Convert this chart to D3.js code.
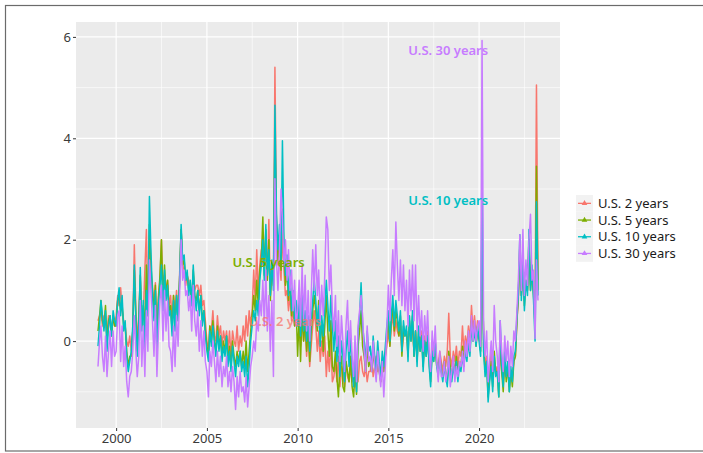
<!DOCTYPE html>
<html>
<head>
<meta charset="utf-8">
<script src="https://cdn.jsdelivr.net/npm/d3@7"></script>
<style>
  body { margin: 0; background: #fff; }
  svg { display: block; font-family: "Noto Sans", "DejaVu Sans", sans-serif; }
</style>
</head>
<body>
<svg id="chart" width="703" height="453"></svg>
<script>
// monthly readings, Jan 1999 .. Apr 2023
const startMonth = new Date(Date.UTC(1999, 0, 1));

const us2 = [
  0.4, 0.5, 0.6, 0.3, 0.5, 0.4, 0.1, 0.5, 0.3, 0.2, 0.5, 0.3,
  0.5, 0.9, 0.7, 1.05, 0.6, 0.4, 0.3, 0.0, -0.1, 0.1, -0.2, 0.2,
  1.9, 0.6, 0.0, 0.5, 1.2, 0.4, 0.5, 1.4, 2.2, 0.6, 1.9, 1.3,
  1.1, 0.7, 1.15, 0.2, 0.9, 1.2, 2.0, 0.9, 1.3, 1.0, 1.2, 0.7,
  0.9, 0.4, 0.9, 0.6, 1.0, 0.5, 1.3, 2.2, 1.5, 1.4, 1.1, 1.3,
  1.2, 1.0, 0.8, 1.3, 1.0, 1.1, 1.1, 0.9, 1.1, 0.7, 0.8, 0.4,
  0.0, -0.2, 0.3, 0.2, 0.6, 0.1, 0.0, 0.5, 0.1, 0.3, -0.1, 0.2,
  0.0, 0.2, -0.2, 0.2, -0.3, 0.2, 0.0, -0.1, 0.3, -0.2, 0.1, -0.1,
  0.3, 0.0, 0.5, 0.1, 0.6, 0.3, 0.6, 1.4, 0.8, 1.8, 0.9, 1.5,
  1.8, 1.5, 1.6, 2.0, 1.2, 2.4, 0.9, 1.5, 1.2, 5.4, 2.4, 1.5,
  1.6, 1.2, 2.2, 1.4, 0.9, 1.0, 0.6, 0.9, 0.4, 0.6, 0.3, 0.5,
  0.4, 0.6, -0.1, 0.5, 0.0, 0.3, -0.3, 0.2, -0.5, -0.1, 0.3, 0.6,
  0.3, -0.2, 0.2, -0.4, 0.0, -0.3, 0.1, -0.7, -0.2, -0.6, 0.0, -0.8,
  -0.7, -0.4, -0.8, -0.3, -0.9, -0.5, -0.6, -0.9, -0.4, -0.7, -0.8, -0.5,
  -0.8, -0.7, -0.9, -0.6, -0.8, -0.4, -0.3, -0.6, -0.7, -0.5, -0.8, -0.6,
  -0.6, -0.4, -0.7, -0.5, -0.3, -0.6, -0.5, -0.8, -0.4, -0.6, -0.3, -0.1,
  0.2, -0.1, 0.3, 0.5, 0.1, 0.4, 0.2, 0.1, 0.3, -0.2, 0.1, 0.2,
  0.2, -0.1, 0.3, 0.1, 0.2, -0.2, 0.2, -0.3, 0.1, 0.0, 0.2, -0.3,
  0.1, -0.2, 0.2, -0.3, -0.5, -0.1, -0.3, 0.0, -0.4, -0.5, -0.2, -0.4,
  -0.6, -0.3, -0.5, -0.2, 0.55, -0.3, -0.5, -0.2, -0.4, -0.1, -0.5, -0.2,
  -0.3, 0.3, -0.2, 0.1, -0.1, 0.3, 0.0, 0.7, 0.2, 0.5, 0.1, 0.4,
  0.3, 0.0, 1.2, 0.2, -0.5, -0.3, -0.7, -0.6, -0.2, -0.8, -0.4, -0.6,
  -0.5, -0.9, 0.0, -0.6, -0.8, -0.4, -0.7, -0.5, -0.9, -0.6, -0.7, -0.4,
  -0.3, 0.4, 0.8, 1.7, 0.9, 1.3, 0.8, 1.1, 1.0, 1.8, 1.1, 1.3,
  1.0, 0.6, 5.05, 1.2
];

const us5 = [
  0.2, 0.5, 0.8, 0.4, 0.3, 0.7, 0.0, 0.4, 0.5, 0.1, 0.5, 0.3,
  0.3, 0.8, 0.9, 0.6, 0.7, 0.3, 0.3, -0.2, -0.5, -0.3, -0.3, 0.2,
  1.4, 0.5, -0.2, 0.4, 1.3, 0.3, 0.7, 0.2, 1.5, 0.5, 2.3, 1.5,
  1.0, 0.6, 1.1, 0.0, 0.8, 1.3, 2.0, 0.8, 1.5, 0.9, 1.2, 0.6,
  0.7, 0.2, 0.9, 0.3, 0.9, 0.4, 1.2, 2.2, 1.5, 1.6, 1.2, 1.3,
  1.0, 1.1, 0.7, 1.4, 0.9, 0.8, 1.0, 0.6, 0.9, 0.4, 0.6, 0.2,
  -0.1, -0.3, 0.3, 0.0, 0.4, 0.0, -0.2, 0.3, -0.1, 0.1, -0.3, 0.0,
  -0.2, 0.1, -0.4, -0.1, -0.5, 0.0, -0.3, -0.5, -0.2, -0.4, -0.2, -0.5,
  -0.2, -0.5, 0.0, -0.6, -0.2, 0.2, 0.5, 0.9, 0.6, 1.2, 0.7, 1.4,
  1.6, 2.45, 1.3, 2.2, 1.2, 2.0, 0.8, 1.5, 1.1, 4.0, 2.3, 1.6,
  2.0, 1.4, 2.6, 1.8, 1.1, 1.4, 0.8, 1.2, 0.5, 0.9, 0.3, 0.7,
  -0.3, 0.5, -0.4, 0.6, 0.0, 0.4, -0.2, 0.3, -0.4, 0.2, 0.6, 0.9,
  0.6, 0.2, 0.8, 0.0, 0.4, -0.2, 0.3, 0.9, 0.2, -0.3, 0.4, -0.5,
  -0.6, -0.2, -0.7, -1.1, -0.5, -0.3, -0.9, -1.0, -0.4, -0.6, -0.8, -0.3,
  -0.9, -1.1, -0.6, -1.05, -0.1, 0.2, 0.6, -0.1, -0.3, -0.6, -0.1, -0.5,
  -0.4, -0.6, -0.2, -0.5, -0.7, -0.3, -0.6, -0.8, -0.4, -0.6, -0.3, 0.1,
  0.4, -0.1, 0.4, 0.7, 0.2, 0.6, 0.4, 0.1, 0.5, -0.3, 0.3, 0.1,
  0.2, -0.3, 0.4, 0.0, 0.5, -0.3, 0.2, -0.4, 0.2, -0.2, 0.1, -0.5,
  0.0, -0.3, 0.1, -0.4, -0.8, -0.2, -0.4, -0.1, -0.5, -0.6, -0.3, -0.6,
  -0.7, -0.4, -0.6, -0.8, -0.2, -0.5, -0.7, -0.4, -0.6, -0.3, -0.7, -0.4,
  -0.5, -0.1, -0.4, -0.1, -0.3, 0.1, -0.2, 0.4, 0.0, 0.3, -0.1, 0.2,
  0.1, -0.2, 2.4, -0.1, -0.6, -0.4, -1.1, -0.7, -0.4, -0.9, -0.2, -0.6,
  -0.6, -1.1, 0.2, -0.6, -1.0, -0.3, -0.8, -0.5, -1.0, -0.6, -0.9, -0.4,
  -0.3, 0.4, 0.9, 1.9, 0.9, 1.5, 0.7, 1.2, 1.0, 2.0, 1.0, 1.4,
  0.9, 0.3, 3.45, 1.0
];

const us10 = [
  -0.1, 0.3, 0.8, 0.5, 0.2, 0.6, -0.2, 0.3, 0.5, 0.1, 0.6, 0.4,
  0.3, 0.8, 1.05, 0.5, 0.9, 0.2, 0.4, -0.3, -0.6, -0.4, -0.2, 0.3,
  1.5, 0.4, -0.3, 0.3, 1.45, 0.2, 0.8, -0.2, 1.0, 0.5, 2.85, 1.8,
  0.9, 0.4, 1.0, -0.2, 0.7, 1.1, 1.5, 0.6, 1.4, 0.8, 1.1, 0.5,
  0.6, 0.1, 0.8, 0.2, 0.9, 0.4, 1.2, 2.3, 1.6, 1.7, 1.2, 1.4,
  0.9, 1.2, 0.7, 1.5, 0.9, 0.6, 1.0, 0.5, 0.9, 0.3, 0.6, 0.1,
  -0.2, -0.4, 0.2, -0.1, 0.3, 0.0, -0.3, 0.2, -0.2, 0.1, -0.4, -0.1,
  -0.3, 0.1, -0.5, -0.2, -0.6, -0.1, -0.4, -0.7, -0.3, -0.5, -0.2, -0.6,
  -0.4, -0.7, -0.3, -0.9, -0.5, 0.0, 0.3, 0.6, 0.4, 0.8, 0.5, 1.2,
  1.5, 2.0, 1.2, 2.3, 1.3, 1.8, 0.9, 1.6, 1.0, 4.65, 2.5, 1.8,
  2.3, 1.6, 3.95, 2.0, 1.3, 1.7, 0.9, 1.4, 0.6, 1.0, 0.4, 0.8,
  0.3, 0.8, 0.1, 0.9, 0.2, 0.6, 0.0, 0.5, -0.2, 0.4, 0.8, 1.2,
  0.8, 0.3, 0.7, -0.1, 0.5, 0.1, 0.6, 1.2, 0.7, 0.2, 0.9, 0.3,
  -0.2, 0.4, -0.4, 0.1, -0.7, 0.0, -0.3, -0.8, -0.2, 0.2, -0.5, 0.1,
  -0.5, -0.9, -0.3, -1.0, 0.2, 0.5, 1.15, 0.3, 0.0, -0.4, 0.2, -0.2,
  -0.1, -0.5, 0.1, -0.3, -0.6, 0.0, -0.4, -0.7, -0.2, -0.5, -0.1, 0.3,
  0.6, 0.0, 0.5, 0.9, 0.3, 0.8, 0.5, 0.2, 0.6, -0.2, 0.4, 0.1,
  0.3, -0.4, 0.5, 0.0, 0.6, -0.3, 0.2, -0.5, 0.3, -0.2, 0.1, -0.6,
  0.0, -0.3, 0.1, -0.5, -0.9, -0.2, -0.4, 0.0, -0.5, -0.7, -0.3, -0.6,
  -0.8, -0.5, -0.7, -0.9, -0.4, -0.6, -0.8, -0.5, -0.7, -0.4, -0.8, -0.5,
  -0.6, -0.3, -0.5, -0.2, -0.4, 0.0, -0.3, 0.3, 0.0, 0.2, -0.1, 0.3,
  0.0, -0.3, 3.1, -0.2, -0.7, -0.4, -1.2, -0.8, -0.5, -1.0, -0.3, -0.7,
  -0.6, -1.1, 0.4, -0.5, -0.9, -0.2, -0.7, -0.4, -1.0, -0.5, -0.8, -0.3,
  -0.2, 0.5, 0.9, 2.1, 0.8, 1.6, 0.6, 1.2, 0.9, 2.2, 1.0, 1.5,
  0.8, 0.0, 2.75, 0.9
];

const us30 = [
  -0.5, 0.0, 0.3, -0.3, -0.6, 0.1, -0.7, -0.2, 0.2, -0.5, 0.2, -0.3,
  -0.2, 0.5, 0.6, -0.4, 0.3, -0.5, -0.1, -0.8, -1.1, -0.7, -0.6, -0.2,
  0.5, -0.2, -0.7, -0.3, 0.8, -0.5, 0.3, -0.7, 0.6, -0.2, 1.6, 1.0,
  0.4, -0.3, 0.7, -0.7, 0.2, 0.8, 1.1, 0.0, 1.0, 0.2, 0.8, -0.1,
  -0.2, -0.6, 0.3, -0.5, 0.5, -0.1, 0.9, 2.0, 1.2, 1.4, 0.9, 1.0,
  0.6, 0.9, 0.2, 1.1, 0.4, 0.1, 0.6, -0.2, 0.4, -0.3, 0.2, -0.4,
  -0.6, -1.1, -0.2, -0.5, 0.0, -0.4, -0.8, -0.2, -0.7, -0.3, -0.9, -0.5,
  -0.7, -0.3, -0.9, -0.6, -1.0, -0.5, -0.8, -1.35, -0.7, -1.1, -0.6, -1.0,
  -0.9, -1.2, -0.7, -1.3, -0.9, -0.5, -0.3, 0.0, -0.2, 0.4, 0.2, 0.8,
  0.5, 1.2, 0.3, 1.4, 0.2, 0.9, -0.2, 0.8, -0.7, 3.2, 1.6, 1.0,
  1.8, 3.0, 2.4, 1.5, 2.0, 1.2, 1.8, 1.0, 1.4, 0.6, 1.2, 0.3,
  0.6, 1.2, 0.3, 1.5, 0.4, 1.3, 0.2, 1.0, 0.0, 0.9, 1.8, 1.0,
  1.9, 0.9, 1.4, 0.4, 1.1, 0.5, 1.3, 2.45, 2.2, 1.0, 1.5, 0.6,
  0.2, 0.9, -0.1, 0.6, -0.4, 0.5, 0.0, -0.6, 0.3, 0.8, -0.2, 0.4,
  -0.3, -0.7, 0.1, -0.8, 0.3, 0.6, 0.9, 0.5, -0.2, -0.6, 0.3, -0.4,
  -0.3, -0.6, 0.0, -0.5, -0.8, -0.2, -0.6, -0.9, -0.4, -1.1, -0.5, 0.2,
  1.1, 0.4, 1.2, 1.8, 0.9, 2.35, 1.5, 0.8, 1.6, 0.7, 1.5, 0.6,
  1.2, 0.3, 1.4, 0.6, 1.5, 0.4, 1.5, 0.2, 0.9, 0.1, 0.6, -0.2,
  0.5, 0.0, 0.6, -0.2, -0.6, 0.2, -0.3, 0.3, -0.4, -0.8, -0.2, -0.7,
  -0.7, -0.4, -0.8, -0.6, -0.3, -0.9, -0.6, -0.3, -0.8, -0.5, -0.7, -0.4,
  -0.5, -0.2, -0.6, 0.0, -0.3, 0.2, -0.2, 0.5, 0.0, 0.4, 0.0, 0.3,
  0.4, -0.1, 5.93, 0.3, -0.3, 0.2, -0.8, -0.4, 0.0, -0.6, 0.7, 0.0,
  -0.3, -0.8, 0.4, -0.2, -0.6, 0.1, -0.4, 0.0, -0.7, -0.1, -0.5, 0.2,
  0.0, 0.6, 1.2, 2.1, 1.0, 2.2, 0.9, 1.6, 1.1, 2.0, 2.5, 1.2,
  1.4, 0.05, 1.6, 0.8
];

const seriesNames = ["U.S. 2 years", "U.S. 5 years", "U.S. 10 years", "U.S. 30 years"];
const seriesValues = [us2, us5, us10, us30];
const colors = ["#F8766D", "#7CAE00", "#00BFC4", "#C77CFF"];

const yTicks = [0, 2, 4, 6];
const xTickYears = [2000, 2005, 2010, 2015, 2020];

// in-plot label anchors (decimal year, value), one per series
const labelYears = [2009.3, 2008.4, 2018.3, 2018.3];
const labelValues = [0.39, 1.56, 2.78, 5.73];

const svg = d3.select("#chart");
const panel = { left: 76, right: 560, top: 22, bottom: 428 };

const dates = us2.map((_, i) => d3.utcMonth.offset(startMonth, i));
const series = seriesNames.map((name, k) => ({
  name, color: colors[k],
  points: seriesValues[k].map((v, i) => ({ date: dates[i], value: v }))
}));

// ggplot-like 5% expansion
const [d0, d1] = d3.extent(dates);
const dPad = (d1 - d0) * 0.05;
const x = d3.scaleUtc()
  .domain([new Date(+d0 - dPad), new Date(+d1 + dPad)])
  .range([panel.left, panel.right]);

const allVals = seriesValues.flat();
const [v0, v1] = d3.extent(allVals);
const vPad = (v1 - v0) * 0.05;
const y = d3.scaleLinear().domain([v0 - vPad, v1 + vPad]).range([panel.bottom, panel.top]);

const yearDate = yr => new Date(Date.UTC(Math.floor(yr), 0, 1) + (yr % 1) * 365.25 * 864e5);

// outer frame
svg.append("rect").attr("x", 5.5).attr("y", 5.5).attr("width", 702).attr("height", 445.5)
  .attr("fill", "#fff").attr("stroke", "#6b6b6b").attr("stroke-width", 1.2);

// panel
svg.append("rect")
  .attr("x", panel.left).attr("y", panel.top)
  .attr("width", panel.right - panel.left).attr("height", panel.bottom - panel.top)
  .attr("fill", "#EBEBEB");

const grid = svg.append("g");
const yMinor = [-1, 1, 3, 5];
const xMinor = [1997.5, 2002.5, 2007.5, 2012.5, 2017.5, 2022.5];

grid.selectAll(".ymin").data(yMinor.filter(v => y(v) > panel.top && y(v) < panel.bottom)).enter()
  .append("line")
  .attr("x1", panel.left).attr("x2", panel.right)
  .attr("y1", d => y(d)).attr("y2", d => y(d))
  .attr("stroke", "#fff").attr("stroke-width", 0.6);
grid.selectAll(".xmin").data(xMinor.filter(v => x(yearDate(v)) > panel.left && x(yearDate(v)) < panel.right)).enter()
  .append("line")
  .attr("y1", panel.top).attr("y2", panel.bottom)
  .attr("x1", d => x(yearDate(d))).attr("x2", d => x(yearDate(d)))
  .attr("stroke", "#fff").attr("stroke-width", 0.6);
grid.selectAll(".ymaj").data(yTicks).enter()
  .append("line")
  .attr("x1", panel.left).attr("x2", panel.right)
  .attr("y1", d => y(d)).attr("y2", d => y(d))
  .attr("stroke", "#fff").attr("stroke-width", 1.2);
grid.selectAll(".xmaj").data(xTickYears).enter()
  .append("line")
  .attr("y1", panel.top).attr("y2", panel.bottom)
  .attr("x1", d => x(yearDate(d))).attr("x2", d => x(yearDate(d)))
  .attr("stroke", "#fff").attr("stroke-width", 1.2);

// lines
const line = d3.line().x(d => x(d.date)).y(d => y(d.value));
svg.append("g").selectAll("path").data(series).enter()
  .append("path")
  .attr("d", d => line(d.points))
  .attr("fill", "none")
  .attr("stroke", d => d.color)
  .attr("stroke-width", 1.5)
  .attr("stroke-linejoin", "round");

// axes
const xAxis = d3.axisBottom(x)
  .tickValues(xTickYears.map(yearDate))
  .tickFormat(d3.utcFormat("%Y"))
  .tickSize(3).tickPadding(3);
const yAxis = d3.axisLeft(y).tickValues(yTicks).tickSize(3).tickPadding(2);

const gx = svg.append("g").attr("transform", `translate(0,${panel.bottom})`).call(xAxis);
const gy = svg.append("g").attr("transform", `translate(${panel.left},0)`).call(yAxis);
[gx, gy].forEach(g => {
  g.select(".domain").remove();
  g.selectAll(".tick line").attr("stroke", "#333");
  g.selectAll(".tick text").attr("fill", "#3a3a3a").style("font-size", "13px")
    .style("font-family", "'Noto Sans', sans-serif");
});

// in-plot labels
svg.append("g").selectAll("text").data(series).enter()
  .append("text")
  .attr("x", (d, i) => x(yearDate(labelYears[i])))
  .attr("y", (d, i) => y(labelValues[i]))
  .attr("dy", "0.35em")
  .attr("text-anchor", "middle")
  .attr("fill", d => d.color)
  .attr("font-weight", 600)
  .attr("font-size", 13)
  .attr("opacity", (d, i) => i === 0 ? 0.75 : 1)
  .text(d => d.name);

// legend
const legend = svg.append("g").attr("transform", "translate(576,195)");
const keyH = 16.7;
const item = legend.selectAll("g").data(series).enter()
  .append("g").attr("transform", (d, i) => `translate(0,${i * keyH})`);
item.append("rect").attr("width", 17).attr("height", keyH).attr("fill", "#F2F2F2");
item.append("line").attr("x1", 2).attr("x2", 15)
  .attr("y1", keyH / 2).attr("y2", keyH / 2)
  .attr("stroke", d => d.color).attr("stroke-width", 1.3);
item.append("path")
  .attr("d", d3.symbol(d3.symbolTriangle, 14))
  .attr("transform", `translate(8.5,${keyH / 2})`)
  .attr("fill", d => d.color);
item.append("text")
  .attr("x", 22).attr("y", keyH / 2).attr("dy", "0.35em")
  .attr("fill", "#1A1A1A").attr("font-size", 13)
  .text(d => d.name);
</script>
</body>
</html>
